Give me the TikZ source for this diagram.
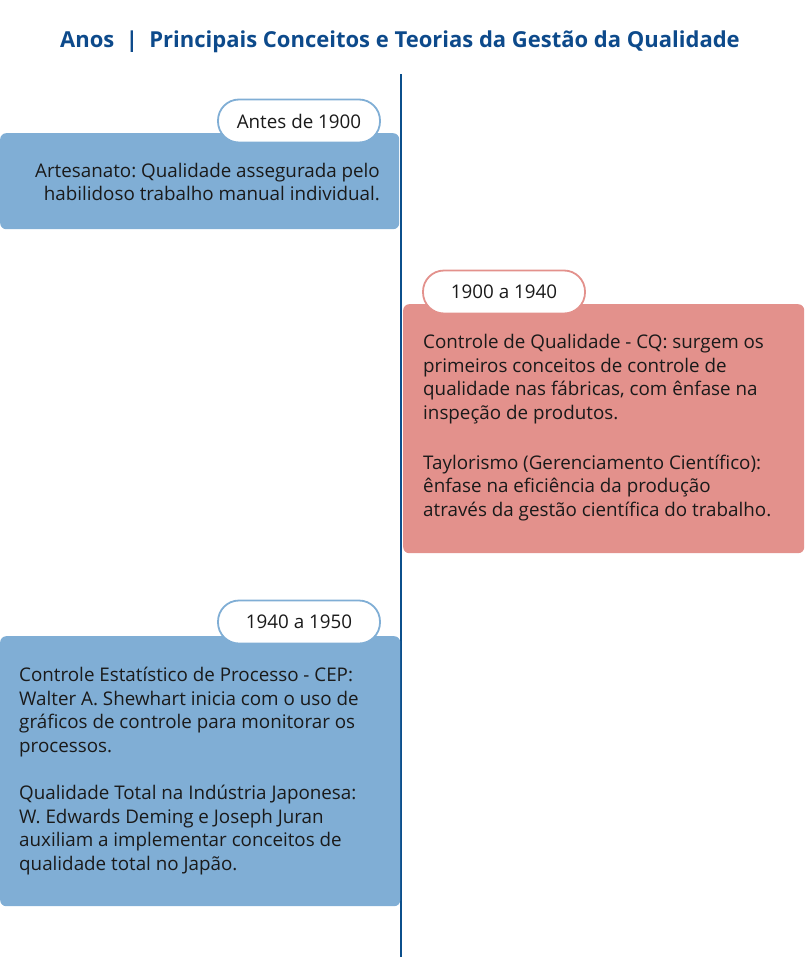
\documentclass[tikz,border=0pt]{standalone}
\usepackage{fontspec}
\setmainfont{Open Sans}
\frenchspacing
\definecolor{titleblue}{HTML}{0D4A8B}
\definecolor{lineblue}{HTML}{0B4F8C}
\definecolor{boxblue}{HTML}{80AED5}
\definecolor{boxred}{HTML}{E3918C}
\definecolor{txt}{HTML}{1A1A1A}
\tikzset{
  card/.style={draw=none, rounded corners=6pt, inner sep=0pt, anchor=north west},
  pill/.style={draw, line width=1.8pt, fill=white, rounded corners=21pt, inner sep=0pt, minimum width=162pt, minimum height=43pt, font=\fontsize{18.8}{22}\selectfont, text=txt},
  body/.style={inner sep=0pt, font=\fontsize{18.8}{23.5}\selectfont, text=txt},
}
\begin{document}
\begin{tikzpicture}[x=1pt,y=-1pt]
\useasboundingbox (0,0) rectangle (804,974);
\node[font=\fontsize{22}{24}\selectfont\bfseries, text=titleblue] (title) at (400,42) {Anos\ \ |\ \ Principais Conceitos e Teorias da Gestão da Qualidade};
\coordinate (ltop) at (401,74);
\coordinate (lbot) at (401,957);
\draw[lineblue, line width=2.6pt] (ltop) -- (lbot);

% box 1
\node[card, fill=boxblue, minimum width=399pt, minimum height=96pt] (b1) at (0,133) {};
\node[pill, draw=boxblue] (p1) at (299,121) {Antes de 1900};
\node[body, font=\fontsize{18.8}{23}\selectfont, align=right, anchor=base east] (t1) at (380,200) {Artesanato: Qualidade assegurada pelo\\habilidoso trabalho manual individual.};

% box 2
\node[card, fill=boxred, minimum width=401pt, minimum height=249pt] (b2) at (403,304) {};
\node[pill, draw=boxred] (p2) at (504,292) {1900 a 1940};
\node[body, align=left, anchor=base west] (t2) at (423,516) {Controle de Qualidade - CQ: surgem os\\primeiros conceitos de controle de\\qualidade nas fábricas, com ênfase na\\inspeção de produtos.\\[26.5pt]Taylorismo (Gerenciamento Científico):\\ênfase na eficiência da produção\\através da gestão científica do trabalho.};

% box 3
\node[card, fill=boxblue, minimum width=400pt, minimum height=270pt] (b3) at (0,636) {};
\node[pill, draw=boxblue] (p3) at (299,622) {1940 a 1950};
\node[body, align=left, anchor=base west] (t3) at (19,870) {Controle Estatístico de Processo - CEP:\\Walter A. Shewhart inicia com o uso de\\gráficos de controle para monitorar os\\processos.\\[24pt]Qualidade Total na Indústria Japonesa:\\W. Edwards Deming e Joseph Juran\\auxiliam a implementar conceitos de\\qualidade total no Japão.};
\end{tikzpicture}
\end{document}
